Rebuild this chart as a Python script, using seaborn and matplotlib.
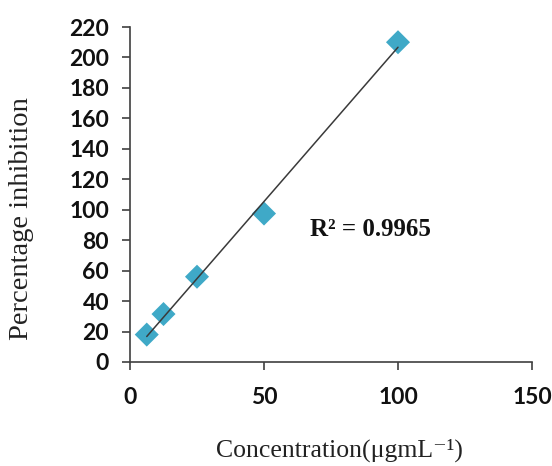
import numpy as np
import pandas as pd
import matplotlib
matplotlib.use("Agg")
import matplotlib.pyplot as plt
import seaborn as sns

# concentration (ugmL-1) vs percentage inhibition
conc = [6.25, 12.5, 25, 50, 100]
inhib = [18, 31.5, 56, 97.5, 210]
r2_label = "R² = 0.9965"
x_ticks = [0, 50, 100, 150]
y_ticks = list(range(0, 221, 20))

df = pd.DataFrame({"conc": conc, "inhib": inhib})

sns.set_style("white")
fig = plt.figure(figsize=(5.52, 4.66), dpi=100)
ax = fig.add_axes([130 / 552, 1 - 362 / 466, (532 - 130) / 552, (362 - 27) / 466])

sns.regplot(data=df, x="conc", y="inhib", ax=ax, ci=None, truncate=True,
            marker="D",
            scatter_kws={"s": 150, "color": "#3fa9c7", "edgecolor": "none", "alpha": 1},
            line_kws={"color": "#3a3a3a", "lw": 1.1})

ax.set_xlim(0, 150)
ax.set_ylim(0, 220)
ax.set_xticks(x_ticks)
ax.set_yticks(y_ticks)

for side in ["top", "right"]:
    ax.spines[side].set_visible(False)
for side in ["left", "bottom"]:
    ax.spines[side].set_color("#404040")
    ax.spines[side].set_linewidth(1.2)

ax.tick_params(axis="both", direction="out", length=6, width=1.2, color="#404040",
               left=True, bottom=True)
ax.tick_params(axis="x", pad=12)
ax.tick_params(axis="y", pad=9)
for lab in ax.get_xticklabels() + ax.get_yticklabels():
    lab.set_fontfamily("Lato")
    lab.set_fontweight("bold")
    lab.set_fontsize(16.5)
    lab.set_color("#111111")

serif = ["Liberation Serif", "DejaVu Serif"]
ax.set_xlabel("Concentration(μgmL\u207b\u00b9)", family=serif,
              fontsize=18.5, color="#222222", va="center")
ax.set_ylabel("Percentage inhibition", family=serif,
              fontsize=20.5, color="#222222", va="center")
# axis titles sit a little off-centre in the original
ax.xaxis.set_label_coords(0.52, -0.263)
ax.yaxis.set_label_coords(-0.269, 0.427)

ax.text(67, 87, r2_label, family=serif, fontweight="bold",
        fontsize=18, va="center", ha="left", color="#111111")

fig.savefig("out.png", dpi=100)
